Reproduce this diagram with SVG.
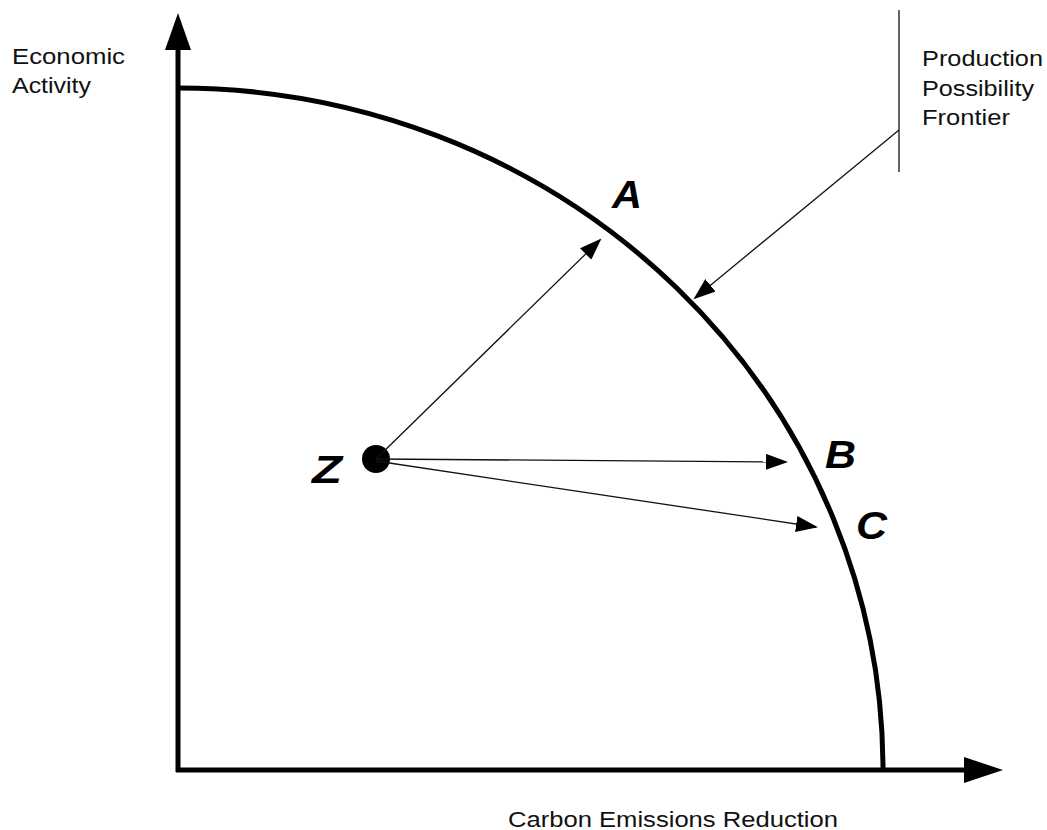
<svg xmlns="http://www.w3.org/2000/svg" width="1047" height="830" viewBox="0 0 1047 830">
<style>
.lbl{font-family:"Liberation Sans",Arial,sans-serif;font-size:21.5px;fill:#111}
.pt{font-family:"Liberation Sans",Arial,sans-serif;font-size:38px;font-weight:bold;font-style:italic;fill:#000}
.thin{stroke:#111;stroke-width:1.3;fill:none}
.axis{stroke:#000;stroke-width:5;fill:none}
</style>
<defs>
<marker id="ah" markerWidth="22" markerHeight="16" refX="20" refY="8" orient="auto" markerUnits="userSpaceOnUse">
<path d="M0,0 L22,8 L0,16 Z" fill="#000"/>
</marker>
</defs>
<rect width="1047" height="830" fill="#fff"/>
<g id="axes">
<line class="axis" x1="178" y1="772" x2="178" y2="48"/>
<path d="M165,50 L178,13 L191,50 Z" fill="#000"/>
<line class="axis" x1="176" y1="770" x2="966" y2="770"/>
<path d="M964,757 L1003,770 L964,783 Z" fill="#000"/>
</g>
<g id="frontier">
<path class="axis" d="M178,88 A705,682 0 0 1 883,770"/>
</g>
<g id="z">
<circle cx="376" cy="459" r="14" fill="#000"/>
<text class="pt" x="312" y="483" textLength="30" lengthAdjust="spacingAndGlyphs">Z</text>
</g>
<g id="a"><text class="pt" x="612" y="208" textLength="30" lengthAdjust="spacingAndGlyphs">A</text></g>
<g id="b"><text class="pt" x="825" y="468" textLength="31" lengthAdjust="spacingAndGlyphs">B</text></g>
<g id="c"><text class="pt" x="856" y="539" textLength="31" lengthAdjust="spacingAndGlyphs">C</text></g>
<g id="labels">
<text class="lbl" x="12" y="64" textLength="113" lengthAdjust="spacingAndGlyphs">Economic</text>
<text class="lbl" x="12" y="93" textLength="79" lengthAdjust="spacingAndGlyphs">Activity</text>
<text class="lbl" x="922" y="66" textLength="121" lengthAdjust="spacingAndGlyphs">Production</text>
<text class="lbl" x="922" y="96" textLength="112" lengthAdjust="spacingAndGlyphs">Possibility</text>
<text class="lbl" x="922" y="125" textLength="88" lengthAdjust="spacingAndGlyphs">Frontier</text>
<text class="lbl" x="508" y="827" textLength="330" lengthAdjust="spacingAndGlyphs">Carbon Emissions Reduction</text>
</g>
<g id="connectors">
<line class="thin" x1="376" y1="459" x2="600" y2="240" marker-end="url(#ah)"/>
<line class="thin" x1="376" y1="459" x2="786" y2="462" marker-end="url(#ah)"/>
<line class="thin" x1="376" y1="461" x2="816" y2="527" marker-end="url(#ah)"/>
<line class="thin" x1="899" y1="10" x2="899" y2="172"/>
<line class="thin" x1="899" y1="130" x2="695" y2="298" marker-end="url(#ah)"/>
</g>
</svg>
